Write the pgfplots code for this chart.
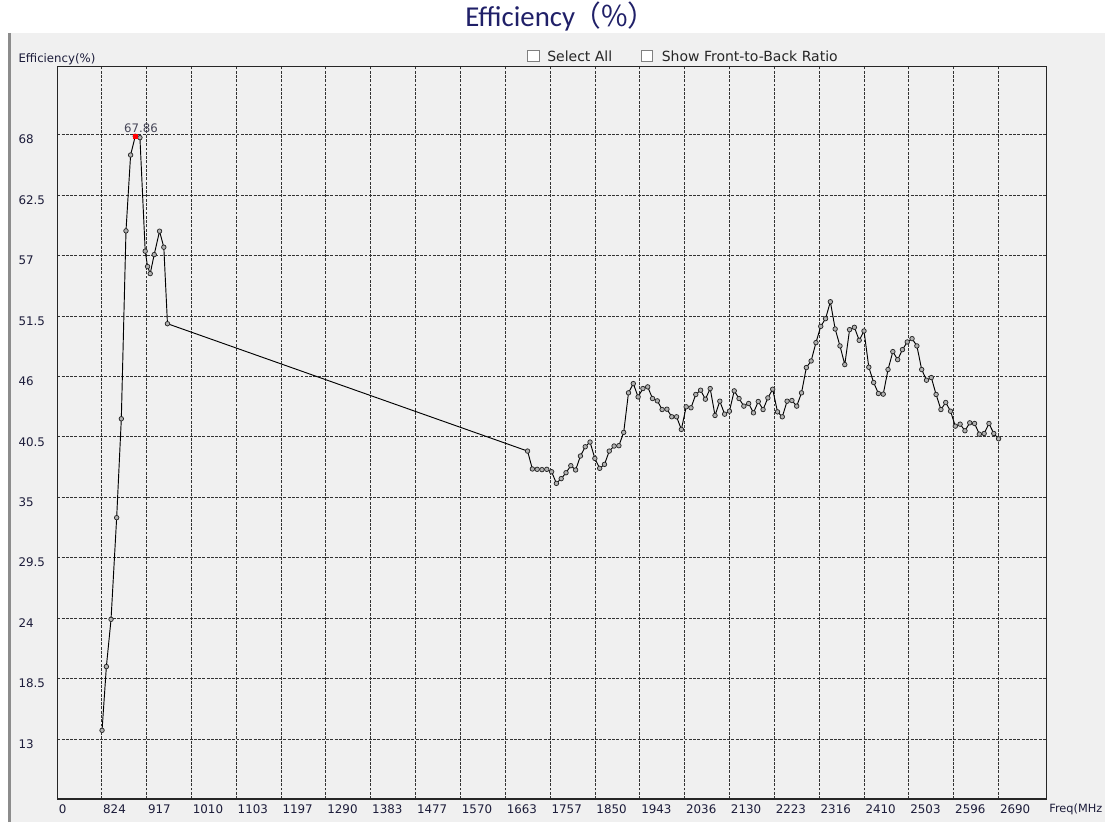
\documentclass[border=0pt]{standalone}
\usepackage{pgfplots}
\pgfplotsset{compat=1.18}
\usepackage{fontspec}
\setmainfont{DejaVu Sans}
\newfontfamily\titlefont{Carlito}
\newfontfamily\cjk{Noto Sans CJK SC}
\definecolor{panel}{RGB}{240,240,240}
\definecolor{labcol}{RGB}{28,28,58}
\definecolor{titlecol}{RGB}{32,32,104}
\definecolor{peaklab}{RGB}{70,70,88}
\begin{document}
\begin{tikzpicture}[x=0.75pt,y=0.75pt]
\useasboundingbox (0,0) rectangle (1105,825);
\fill[white] (0,0) rectangle (1105,825);
\fill[panel] (8,3) rectangle (1105,792);
\draw[black!45, line width=1.6pt] (9.5,3) -- (9.5,792);
% title
\node[anchor=base west, inner sep=0pt, text=titlecol, font=\titlefont\fontsize{21.6}{25}\selectfont] at (465,798.3) {Efficiency{\cjk \hspace{-2pt}（\%）}};
% checkboxes
\draw[black!50, fill=white, line width=0.6pt] (527.5,763.5) rectangle (539,775);
\draw[black!50, fill=white, line width=0.6pt] (641,763.5) rectangle (652.5,775);
\node[anchor=west, inner sep=0pt, font=\fontsize{10.5}{12}\selectfont, text=black!85] at (547,769) {Select All};
\node[anchor=west, inner sep=0pt, font=\fontsize{10.5}{12}\selectfont, text=black!85] at (661.5,769) {Show Front-to-Back Ratio};
\begin{axis}[
  at={(42.98pt,19.5pt)}, anchor=south west,
  scale only axis, width=742pt, height=549.5pt,
  xmin=731.6, xmax=2790, ymin=7.55, ymax=74.22,
  xtick={731.6,824,917.3,1010.6,1103.9,1197.2,1290.5,1383.8,1477.1,1570.4,1663.7,1757,1850.3,1943.6,2036.9,2130.2,2223.5,2316.8,2410.1,2503.4,2596.7,2690},
  xticklabels={0,824,917,1010,1103,1197,1290,1383,1477,1570,1663,1757,1850,1943,2036,2130,2223,2316,2410,2503,2596,2690},
  ytick={13,18.5,24,29.5,35,40.5,46,51.5,57,62.5,68},
  yticklabels={13,18.5,24,29.5,35,40.5,46,51.5,57,62.5,68},
  major tick length=0pt,
  grid=major,
  major grid style={black!80, line width=0.7pt, dash pattern=on 2.2pt off 1pt},
  axis line style={black!85, line width=1.1pt},
  /pgf/number format/assume math mode=true,
  tick label style={font=\fontsize{8.9}{10.5}\selectfont, text=labcol, inner sep=0pt},
  xticklabel style={anchor=north west, xshift=0.9pt, yshift=-4.4pt},
  yticklabel style={anchor=west, xshift=-29.3pt, yshift=-3.6pt},
  xlabel={Freq(MHz},
  every axis x label/.style={at={(rel axis cs:1,0)}, anchor=west, inner sep=0pt, xshift=1.8pt, yshift=-7.6pt, font=\fontsize{8.5}{10}\selectfont, text=labcol},
  ylabel={Efficiency(\%)},
  every axis y label/.style={at={(rel axis cs:0,1)}, anchor=west, inner sep=0pt, xshift=-29.3pt, yshift=5.3pt, font=\fontsize{8.8}{10.5}\selectfont, text=labcol},
]
\addplot[black, line width=0.7pt, mark=*, mark size=1.7pt, mark options={fill=black!30, draw=black!85, line width=0.55pt}] coordinates {
(824.7,13.8) (833.7,19.6) (843.4,23.9) (855.1,33.15) (864.8,42.15) (874.5,59.25)
(884.1,66.15) (893.8,67.86) (903.5,67.73) (914.5,57.4) (919.4,56.0) (924.9,55.36)
(933.2,57.09) (944.3,59.22) (953.2,57.76) (960.8,50.8)
(1710,39.21) (1720,37.58) (1730,37.55) (1740,37.52) (1750,37.55) (1760,37.33)
(1770,36.27) (1780,36.7) (1790,37.24) (1800,37.88) (1810,37.49) (1820,38.76)
(1830,39.6) (1840,40.03) (1850,38.54) (1860,37.64) (1870,38.0) (1880,39.21)
(1890,39.67) (1900,39.7) (1910,40.91) (1920,44.51) (1930,45.35) (1940,44.14)
(1950,44.9) (1960,45.05) (1970,43.99) (1980,43.78) (1990,42.99) (2000,43.02)
(2010,42.33) (2020,42.33) (2030,41.18) (2040,43.24) (2050,43.15) (2060,44.36)
(2070,44.75) (2080,43.93) (2090,44.9) (2100,42.45) (2110,43.75) (2120,42.57)
(2130,42.84) (2140,44.69) (2150,43.99) (2160,43.3) (2170,43.54) (2180,42.69)
(2190,43.72) (2200,42.99) (2210,44.05) (2220,44.84) (2230,42.78) (2240,42.33)
(2250,43.75) (2260,43.81) (2270,43.3) (2280,44.51) (2290,46.81) (2300,47.41)
(2310,49.08) (2320,50.56) (2330,51.26) (2340,52.8) (2350,50.32) (2360,48.78)
(2370,47.08) (2380,50.26) (2390,50.47) (2400,49.29) (2410,50.14) (2420,46.84)
(2430,45.45) (2440,44.45) (2450,44.39) (2460,46.63) (2470,48.26) (2480,47.53)
(2490,48.44) (2500,49.14) (2510,49.44) (2520,48.78) (2530,46.63) (2540,45.66)
(2550,45.9) (2560,44.36) (2570,42.99) (2580,43.63) (2590,42.84) (2600,41.48)
(2610,41.66) (2620,41.06) (2630,41.78) (2640,41.72) (2650,40.75) (2660,40.81)
(2670,41.72) (2680,40.81) (2690,40.33)
};
\addplot[only marks, mark=square*, mark size=1.5pt, red, forget plot] coordinates {(893.8,67.86)};
\node[font=\fontsize{8.8}{10.5}\selectfont, text=peaklab, inner sep=0pt] at (axis cs:905.7,68.55) {67.86};
\end{axis}
\end{tikzpicture}
\end{document}
